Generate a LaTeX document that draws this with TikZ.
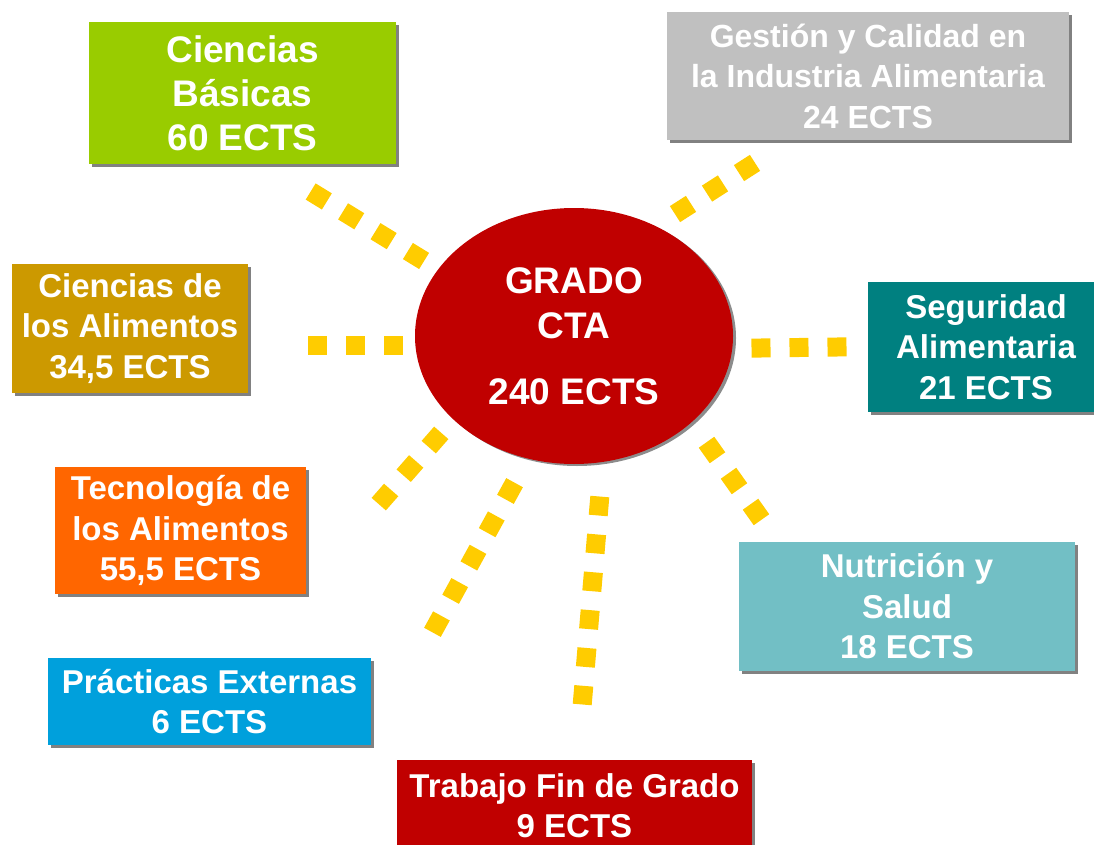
\documentclass[tikz,border=0pt]{standalone}
\usepackage{fontspec}
\setmainfont{Liberation Sans}
\usetikzlibrary{shapes.geometric,shadows}

\definecolor{verde}{HTML}{99CC00}
\definecolor{gris}{HTML}{C0C0C0}
\definecolor{ocre}{HTML}{CC9900}
\definecolor{petroleo}{HTML}{008080}
\definecolor{naranja}{HTML}{FF6600}
\definecolor{turquesa}{HTML}{72BFC5}
\definecolor{azul}{HTML}{00A0DC}
\definecolor{rojo}{HTML}{C00000}
\definecolor{amarillo}{HTML}{FFCC00}

\begin{document}
\begin{tikzpicture}[x=1pt, y=-1pt,
    caja/.style={rectangle, text=white, inner sep=0pt, align=center,
        font=\bfseries\fontsize{33}{40.5}\selectfont,
        drop shadow={shadow xshift=3pt, shadow yshift=-3pt, fill=black!55, opacity=0.9}},
    puntos/.style={draw=amarillo, line width=19pt, dash pattern=on 19pt off 19pt,
        shorten <=-9.5pt, shorten >=-9.5pt}]

    \useasboundingbox (0,0) rectangle (1094,845);

    % -- Centro: el grado --
    \node[ellipse, fill=rojo, text=white, minimum width=318pt, minimum height=256pt,
          inner sep=0pt, align=center, font=\bfseries\fontsize{37}{45}\selectfont,
          drop shadow={shadow xshift=3pt, shadow yshift=-2pt, fill=black!50, opacity=0.9}]
          (grado) at (574,336) {GRADO\\CTA\\[21pt]240 ECTS};

    % -- Módulos alrededor --
    \node[caja, fill=verde, minimum width=307pt, minimum height=142pt,
          font=\bfseries\fontsize{37}{44}\selectfont]
          (basicas) at (242.5,93) {Ciencias\\Básicas\\60 ECTS};
    \node[caja, fill=gris, minimum width=402pt, minimum height=128pt,
          font=\bfseries\fontsize{32}{40.5}\selectfont]
          (gestion) at (868,76) {Gestión y Calidad en\\la Industria Alimentaria\\24 ECTS};
    \node[caja, fill=ocre, minimum width=236pt, minimum height=129pt]
          (cienali) at (130,328.5) {Ciencias de\\los Alimentos\\34,5 ECTS};
    \node[caja, fill=petroleo, minimum width=236pt, minimum height=130pt]
          (seguridad) at (986,347) {Seguridad\\Alimentaria\\21 ECTS};
    \node[caja, fill=naranja, minimum width=251pt, minimum height=127pt]
          (tecnoali) at (180.5,530.5) {Tecnología de\\los Alimentos\\55,5 ECTS};
    \node[caja, fill=turquesa, minimum width=336pt, minimum height=129pt]
          (nutricion) at (907,606.5) {Nutrición y\\Salud\\18 ECTS};
    \node[caja, fill=azul, minimum width=323pt, minimum height=87pt]
          (practicas) at (209.5,701.5) {Prácticas Externas\\6 ECTS};
    \node[caja, fill=rojo, minimum width=355pt, minimum height=91pt]
          (tfg) at (574.5,805.5) {Trabajo Fin de Grado\\9 ECTS};

    % -- Rayos de puntos amarillos --
    \coordinate (r1a) at (416,256); \coordinate (r1b) at (318,196);
    \coordinate (r2a) at (393,345); \coordinate (r2b) at (317,345);
    \coordinate (r3a) at (683,209); \coordinate (r3b) at (747,168);
    \coordinate (r4a) at (761,348); \coordinate (r4b) at (837,347);
    \coordinate (r5a) at (712,450); \coordinate (r5b) at (756,512);
    \coordinate (r6a) at (435,440); \coordinate (r6b) at (385,497);
    \coordinate (r7a) at (510,491); \coordinate (r7b) at (437,624);
    \coordinate (r8a) at (599,506); \coordinate (r8b) at (583,695);

    \foreach \r in {1,...,8}
        \draw[puntos] (r\r a) -- (r\r b);
\end{tikzpicture}
\end{document}
